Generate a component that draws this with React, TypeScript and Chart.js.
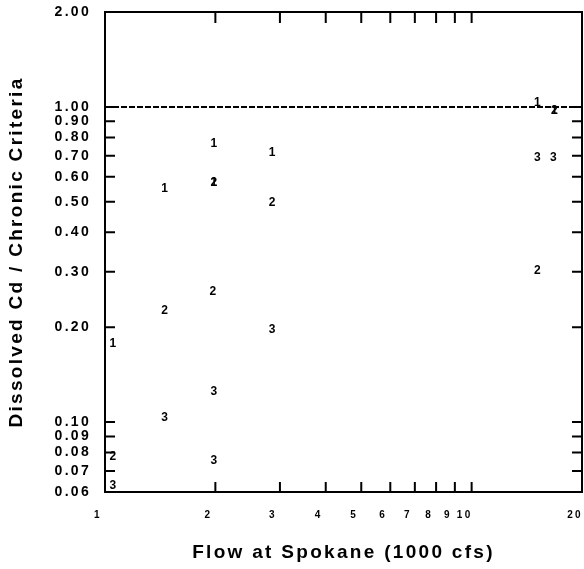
import React, { useEffect, useRef } from "react";
import { Chart, registerables } from "chart.js";

Chart.register(...registerables);

// Series "1", "2", "3": flow at Spokane (1000 cfs) vs dissolved Cd / chronic criteria
const series1X = [1.05, 1.455, 1.98, 1.98, 2.855, 15.1, 16.8];
const series1Y = [0.177, 0.549, 0.763, 0.574, 0.718, 1.03, 0.975];
const series2X = [1.05, 1.455, 1.97, 1.98, 2.855, 15.1, 16.8];
const series2Y = [0.0776, 0.226, 0.26, 0.574, 0.495, 0.303, 0.975];
const series3X = [1.05, 1.455, 1.98, 1.98, 2.855, 15.1, 16.7];
const series3Y = [0.0627, 0.103, 0.125, 0.0754, 0.196, 0.69, 0.69];
const seriesLabels = ["1", "2", "3"];

const criteriaX = [1, 20];
const criteriaY = [1, 1];

const xTickValues = [1, 2, 3, 4, 5, 6, 7, 8, 9, 10, 20];
const xTickLabels = ["1", "2", "3", "4", "5", "6", "7", "8", "9", "10", "20"];
const yTickValues = [0.06, 0.07, 0.08, 0.09, 0.1, 0.2, 0.3, 0.4, 0.5, 0.6, 0.7, 0.8, 0.9, 1.0, 2.0];
const yTickLabels = ["0.06", "0.07", "0.08", "0.09", "0.10", "0.20", "0.30", "0.40", "0.50", "0.60", "0.70", "0.80", "0.90", "1.00", "2.00"];

const xTitle = "Flow at Spokane (1000 cfs)";
const yTitle = "Dissolved Cd / Chronic Criteria";

const FONT = "'Liberation Sans', Arial, Helvetica, sans-serif";

const spacingPlugin = {
  id: "spacing",
  beforeDraw(chart: any) {
    chart.ctx.letterSpacing = "2.3px";
  },
};

const innerTicksPlugin = {
  id: "innerTicks",
  afterDatasetsDraw(chart: any) {
    const { ctx, chartArea, scales } = chart;
    const { left, right, top, bottom } = chartArea;
    const x = scales.x;
    const y = scales.y;
    ctx.save();
    ctx.strokeStyle = "#000";
    ctx.lineWidth = 2;
    ctx.beginPath();
    xTickValues.forEach((v) => {
      if (v <= 1 || v >= 20) return;
      const px = x.getPixelForValue(v);
      ctx.moveTo(px, bottom);
      ctx.lineTo(px, bottom - 10);
      ctx.moveTo(px, top);
      ctx.lineTo(px, top + 11);
    });
    yTickValues.forEach((v) => {
      if (v <= 0.06 || v >= 2) return;
      const py = y.getPixelForValue(v);
      ctx.moveTo(left, py);
      ctx.lineTo(left + 10, py);
      ctx.moveTo(right, py);
      ctx.lineTo(right - 10, py);
    });
    ctx.stroke();
    ctx.restore();
  },
};

const pointLabelPlugin = {
  id: "pointLabels",
  afterDatasetsDraw(chart: any) {
    const ctx = chart.ctx;
    ctx.save();
    ctx.letterSpacing = "0px";
    ctx.font = `bold 12px ${FONT}`;
    ctx.textAlign = "center";
    ctx.textBaseline = "middle";
    ctx.fillStyle = "#000";
    chart.data.datasets.forEach((ds: any, i: number) => {
      if (i >= seriesLabels.length) return;
      const meta = chart.getDatasetMeta(i);
      meta.data.forEach((el: any) => {
        ctx.fillText(seriesLabels[i], el.x, el.y);
      });
    });
    ctx.restore();
  },
};

function toPoints(xs: number[], ys: number[]) {
  return xs.map((x, i) => ({ x, y: ys[i] }));
}

function zeroPad(s: any) {
  s.paddingLeft = 0;
  s.paddingRight = 0;
  s.paddingTop = 0;
  s.paddingBottom = 0;
}

export default function App() {
  const canvasRef = useRef<HTMLCanvasElement | null>(null);

  useEffect(() => {
    if (!canvasRef.current) return;
    const borderOpt = { display: true, color: "#000", width: 2 };
    const chart = new Chart(canvasRef.current, {
      type: "scatter",
      data: {
        datasets: [
          { label: seriesLabels[0], data: toPoints(series1X, series1Y), pointRadius: 0, pointHoverRadius: 0, showLine: false },
          { label: seriesLabels[1], data: toPoints(series2X, series2Y), pointRadius: 0, pointHoverRadius: 0, showLine: false },
          { label: seriesLabels[2], data: toPoints(series3X, series3Y), pointRadius: 0, pointHoverRadius: 0, showLine: false },
          {
            label: "Chronic criteria",
            data: toPoints(criteriaX, criteriaY),
            showLine: true,
            borderColor: "#000",
            borderWidth: 2,
            borderDash: [6, 2],
            pointRadius: 0,
            pointHoverRadius: 0,
          },
        ],
      },
      options: {
        animation: false,
        responsive: true,
        maintainAspectRatio: false,
        layout: { padding: 0 },
        plugins: {
          legend: { display: false },
          tooltip: { enabled: false },
        },
        scales: {
          x: {
            type: "logarithmic",
            position: "bottom",
            min: 1,
            max: 20,
            afterBuildTicks: (s: any) => {
              s.ticks = xTickValues.map((v) => ({ value: v }));
            },
            afterFit: (s: any) => {
              s.height = 77;
              zeroPad(s);
            },
            grid: { display: false, drawTicks: false },
            border: borderOpt,
            ticks: {
              autoSkip: false,
              maxRotation: 0,
              minRotation: 0,
              padding: 17,
              labelOffset: -7,
              color: "#000",
              font: { family: FONT, size: 10, weight: "bold" },
              callback: (_v: any, i: number) => xTickLabels[i],
            },
            title: {
              display: true,
              text: xTitle,
              color: "#000",
              font: { family: FONT, size: 19, weight: "bold" },
              padding: { top: 0, bottom: 5 },
            },
          },
          x2: {
            type: "logarithmic",
            position: "top",
            min: 1,
            max: 20,
            afterFit: (s: any) => {
              s.height = 12;
              zeroPad(s);
            },
            grid: { display: false, drawTicks: false },
            border: borderOpt,
            ticks: { display: false },
          },
          y: {
            type: "logarithmic",
            position: "left",
            min: 0.06,
            max: 2,
            afterBuildTicks: (s: any) => {
              s.ticks = yTickValues.map((v) => ({ value: v }));
            },
            afterFit: (s: any) => {
              s.width = 105;
              zeroPad(s);
            },
            grid: { display: false, drawTicks: false },
            border: borderOpt,
            ticks: {
              autoSkip: false,
              padding: 14,
              color: "#000",
              font: { family: FONT, size: 14, weight: "bold" },
              callback: (_v: any, i: number) => yTickLabels[i],
            },
            title: {
              display: true,
              text: yTitle,
              color: "#000",
              font: { family: FONT, size: 19, weight: "bold" },
              padding: { top: 5, bottom: 0 },
            },
          },
          y2: {
            type: "logarithmic",
            position: "right",
            min: 0.06,
            max: 2,
            afterFit: (s: any) => {
              s.width = 2;
              zeroPad(s);
            },
            grid: { display: false, drawTicks: false },
            border: borderOpt,
            ticks: { display: false },
          },
        },
      } as any,
      plugins: [spacingPlugin, innerTicksPlugin, pointLabelPlugin],
    });
    return () => chart.destroy();
  }, []);

  return (
    <div
      style={{
        position: "fixed",
        left: 0,
        top: 0,
        width: 584,
        height: 569,
        background: "#fff",
      }}
    >
      <canvas ref={canvasRef} />
    </div>
  );
}
